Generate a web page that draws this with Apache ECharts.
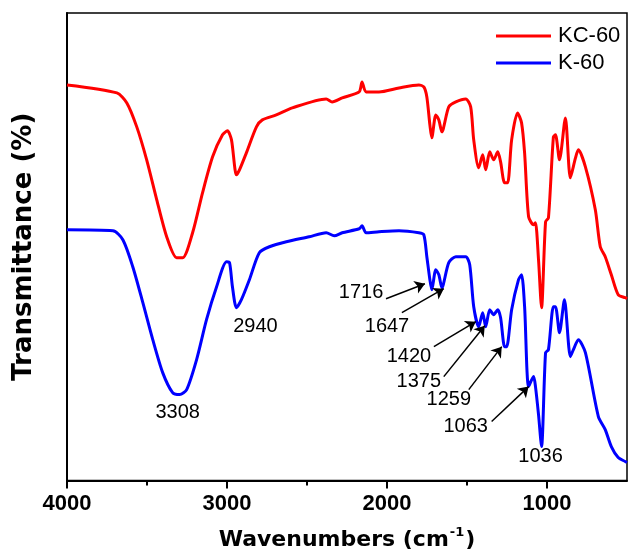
<!DOCTYPE html>
<html>
<head>
<meta charset="utf-8">
<script src="https://cdn.jsdelivr.net/npm/echarts@6/dist/echarts.min.js"></script>
<style>html,body{margin:0;padding:0;background:#fff}#c{width:629px;height:556px}</style>
</head>
<body>
<div id="c"></div>
<script>
// ---- data (wavenumber in cm^-1, transmittance in arbitrary offset units) ----
const kcWn = [4000,3688,3626,3564,3502,3439,3377,3315,3277,3215,3153,3090,3028,2997,2972,2941,2922,2879,2816,2779,2692,2592,2380,2343,2280,2174,2156,2131,2050,1925,1801,1770,1751,1732,1720,1695,1676,1657,1614,1570,1508,1477,1458,1427,1402,1383,1358,1333,1308,1290,1265,1246,1221,1184,1159,1140,1115,1084,1072,1053,1034,1009,991,960,947,922,885,854,822,804,760,698,667,636,598,555,511,500];
const kcT  = [397,389,379,355,322,282,245,224,224,249,289,325,347,351,342,307,312,329,355,362,367,374,383,380,384,390,400,390,390,394,397,395,385,357,344,367,362,350,375,380,383,375,342,314,327,312,330,322,330,320,299,299,342,369,359,329,265,257,259,222,174,260,264,345,347,322,364,304,324,332,315,272,235,225,207,187,184,183];

const kWn = [4000,3713,3651,3589,3526,3464,3402,3340,3296,3252,3190,3128,3065,3003,2984,2966,2941,2910,2860,2798,2735,2629,2486,2380,2330,2280,2174,2156,2131,2050,1925,1801,1770,1751,1732,1720,1695,1676,1657,1614,1570,1508,1483,1458,1427,1402,1383,1358,1333,1308,1290,1265,1252,1221,1178,1159,1140,1115,1084,1072,1053,1034,1009,991,960,947,922,891,854,835,804,760,679,636,598,555,511,500];
const kT  = [252,251,242,215,179,142,109,89,87,92,122,162,195,220,219,195,174,182,202,229,235,240,245,249,246,249,253,256,249,250,251,249,247,225,202,192,212,207,194,219,225,225,217,175,155,169,155,172,167,172,164,135,135,172,202,207,175,95,105,95,67,35,129,132,175,175,149,182,125,132,142,129,65,52,35,24,20,19];

const seriesNames = ['KC-60', 'K-60'];
const xTickLabels = [4000, 3000, 2000, 1000];
const xMinorTicks = [3500, 2500, 1500];

const peakLabels = ['3308','2940','1716','1647','1420','1375','1259','1063','1036'];
const peakLabelWn = [3308,2822,2162,2000,1863,1801,1614,1508,1040];
const peakLabelT  = [69,155,189,155,125,100,82,55,25];

const arrowFromWn = [2006,1907,1707,1645,1489,1346];
const arrowFromT  = [183,169,135,105,92,60];
const arrowToWn   = [1763,1645,1445,1389,1283,1115];
const arrowToT    = [198,193,160,156,135,95];

// ---- chart ----
const zip = (a, b) => a.map((v, i) => [v, b[i]]);
const chart = echarts.init(document.getElementById('c'), null, {renderer: 'canvas'});
const arial = '"Liberation Sans", Arial, sans-serif';
const dejaBold = '"DejaVu Sans", sans-serif';

chart.setOption({
  animation: false,
  backgroundColor: '#fff',
  grid: {left: 67, right: 2, top: 13, bottom: 75, show: true, borderColor: '#000', borderWidth: 1.5, containLabel: false},
  legend: {
    data: seriesNames,
    orient: 'vertical',
    left: 491, top: 20,
    icon: 'rect', itemWidth: 55, itemHeight: 3, itemGap: 5,
    textStyle: {fontFamily: arial, fontSize: 22, color: '#000', lineHeight: 22, padding: [0,0,0,2]}
  },
  xAxis: [{
    type: 'value', min: 500, max: 4000, interval: 500, inverse: true,
    name: '{a|Wavenumbers (cm}{s|-1}{a|)}', nameLocation: 'middle', nameGap: 46,
    nameTextStyle: {rich: {
      a: {fontFamily: dejaBold, fontWeight: 'bold', fontSize: 22, color: '#000'},
      s: {fontFamily: dejaBold, fontWeight: 'bold', fontSize: 13, color: '#000', padding: [0,1,14,1]}
    }},
    axisLine: {show: true, onZero: false, lineStyle: {color: '#000', width: 2}},
    axisTick: {show: true, length: 8, lineStyle: {color: '#000', width: 2}, customValues: xTickLabels},
    axisLabel: {show: true, customValues: xTickLabels, formatter: v => String(v), margin: 12, fontFamily: arial, fontWeight: 'bold', fontSize: 22, color: '#000'},
    splitLine: {show: false}
  }, {
    type: 'value', min: 500, max: 4000, interval: 500, inverse: true, position: 'bottom',
    axisLine: {show: false},
    axisTick: {show: true, length: 5, lineStyle: {color: '#000', width: 2}, customValues: xMinorTicks},
    axisLabel: {show: false},
    splitLine: {show: false}
  }],
  yAxis: {
    type: 'value', min: 1, max: 469,
    name: 'Transmittance (%)', nameLocation: 'middle', nameGap: 30,
    nameTextStyle: {fontFamily: dejaBold, fontWeight: 'bold', fontSize: 26, color: '#000'},
    axisLine: {show: true, onZero: false, lineStyle: {color: '#000', width: 2}},
    axisTick: {show: false}, axisLabel: {show: false}, splitLine: {show: false}
  },
  series: [{
    name: seriesNames[0], type: 'line', data: zip(kcWn, kcT), showSymbol: false, smooth: 0.25,
    lineStyle: {color: '#ff0000', width: 3}, itemStyle: {color: '#ff0000'}
  }, {
    name: seriesNames[1], type: 'line', data: zip(kWn, kT), showSymbol: false, smooth: 0.25,
    lineStyle: {color: '#0000ff', width: 3}, itemStyle: {color: '#0000ff'}
  }, {
    name: 'annotations', type: 'scatter', symbolSize: 1, itemStyle: {color: 'rgba(0,0,0,0)', opacity: 1},
    silent: true,
    data: peakLabels.map((t, i) => ({name: t, value: [peakLabelWn[i], peakLabelT[i]]})),
    label: {show: true, position: 'inside', formatter: p => p.name, fontFamily: arial, fontSize: 20, color: '#000', opacity: 1},
    markLine: {
      silent: true, symbol: ['none', 'arrow'], symbolSize: 10, animation: false,
      label: {show: false},
      lineStyle: {color: '#000', width: 1.5, type: 'solid', opacity: 1},
      data: arrowFromWn.map((w, i) => [{coord: [w, arrowFromT[i]]}, {coord: [arrowToWn[i], arrowToT[i]]}])
    }
  }]
});
</script>
</body>
</html>
